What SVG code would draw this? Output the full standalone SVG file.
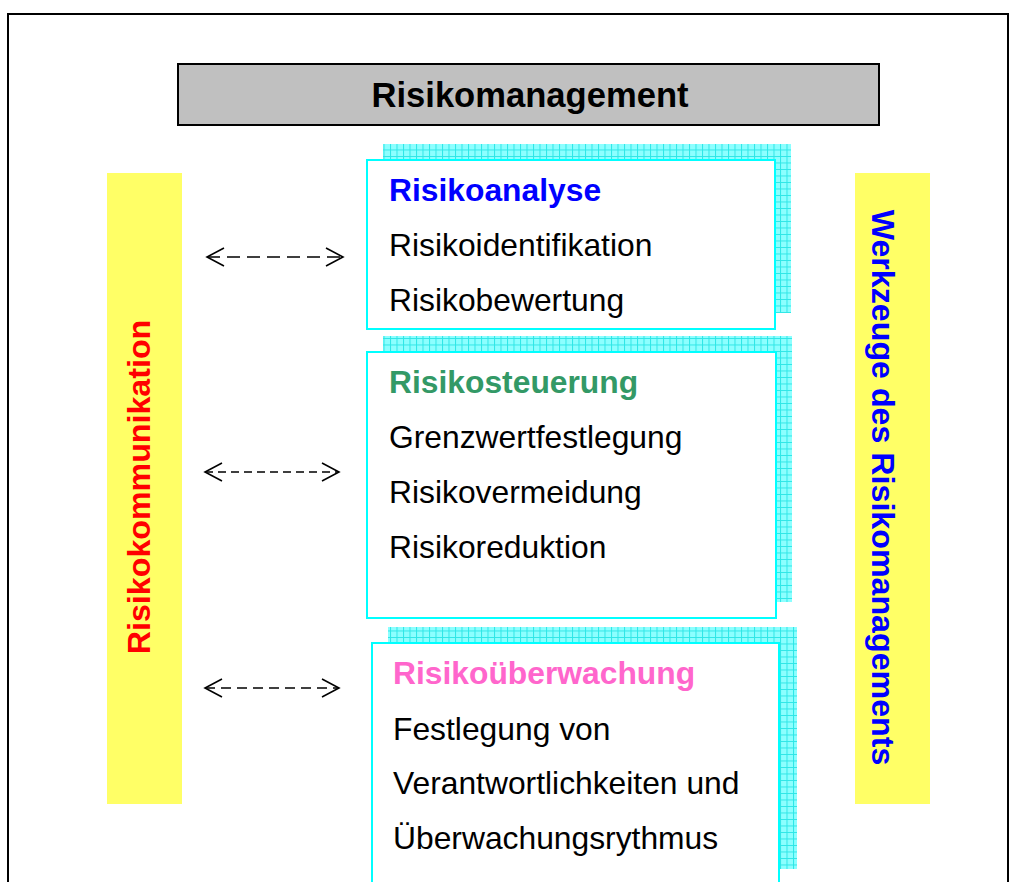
<svg xmlns="http://www.w3.org/2000/svg" width="1011" height="882" viewBox="0 0 1011 882">
<style>
.t{font-family:"Liberation Sans",Arial,sans-serif;font-size:31.8px;fill:#000}
.b{font-weight:bold}
.v{font-size:32.2px}
.box{fill:#fff;stroke:#00ffff;stroke-width:2}
.sh{fill:url(#grid)}
.bar{fill:#ffff66}
.arr{fill:none;stroke:#000;stroke-width:1.5}
</style>
<defs>
<pattern id="grid" width="6.5" height="6.5" patternUnits="userSpaceOnUse">
<rect width="6.5" height="6.5" fill="#8cffff"/>
<path d="M0 0.5H6.5M0.5 0V6.5" stroke="#2ee6e6" stroke-width="1"/>
</pattern>
<marker id="ah" viewBox="0 0 20 20" refX="18" refY="10" markerWidth="20" markerHeight="20" markerUnits="userSpaceOnUse" orient="auto-start-reverse">
<path d="M1 1L18 10L1 19" fill="none" stroke="#000" stroke-width="1.6"/>
</marker>
</defs>
<rect width="1011" height="882" fill="#fff"/>
<rect id="frame" x="8" y="14" width="1000" height="900" fill="none" stroke="#000" stroke-width="2"/>
<g id="title">
<rect x="178" y="64" width="701" height="61" fill="#c0c0c0" stroke="#000" stroke-width="2"/>
<text class="t b" x="530" y="107" text-anchor="middle" style="font-size:34.6px">Risikomanagement</text>
</g>
<g id="kommunikation">
<rect class="bar" x="107" y="173" width="75" height="631"/>
<text class="t b v" transform="translate(150,487) rotate(-90)" text-anchor="middle" style="fill:#ff0000">Risikokommunikation</text>
</g>
<g id="werkzeuge">
<rect class="bar" x="855" y="173" width="75" height="631"/>
<text class="t b v" transform="translate(872,487.5) rotate(90)" text-anchor="middle" style="fill:#0000ff">Werkzeuge des Risikomanagements</text>
</g>
<g id="analyse">
<rect class="sh" x="383" y="144" width="408" height="169"/>
<rect class="box" x="367" y="160" width="408" height="169"/>
<text class="t b" x="389" y="201" style="fill:#0000ff">Risikoanalyse</text>
<text class="t" x="389" y="256">Risikoidentifikation</text>
<text class="t" x="389" y="311">Risikobewertung</text>
</g>
<g id="steuerung">
<rect class="sh" x="383" y="336" width="409" height="266"/>
<rect class="box" x="367" y="352" width="409" height="266"/>
<text class="t b" x="389" y="393" style="fill:#339966">Risikosteuerung</text>
<text class="t" x="389" y="448">Grenzwertfestlegung</text>
<text class="t" x="389" y="503">Risikovermeidung</text>
<text class="t" x="389" y="558">Risikoreduktion</text>
</g>
<g id="ueberwachung">
<rect class="sh" x="388" y="627" width="409" height="242"/>
<rect class="box" x="372" y="643" width="407" height="260"/>
<text class="t b" x="393" y="684" style="fill:#ff66cc">Risikoüberwachung</text>
<text class="t" x="393" y="740">Festlegung von</text>
<text class="t" x="393" y="794">Verantwortlichkeiten und</text>
<text class="t" x="393" y="849">Überwachungsrythmus</text>
</g>
<g id="connectors">
<path class="arr" d="M207 257H343" stroke-dasharray="13 7" marker-start="url(#ah)" marker-end="url(#ah)"/>
<path class="arr" d="M205 472H339" stroke-width="1.1" stroke-dasharray="8 5" marker-start="url(#ah)" marker-end="url(#ah)"/>
<path class="arr" d="M205 688H339" stroke-dasharray="10 6" marker-start="url(#ah)" marker-end="url(#ah)"/>
</g>
</svg>
